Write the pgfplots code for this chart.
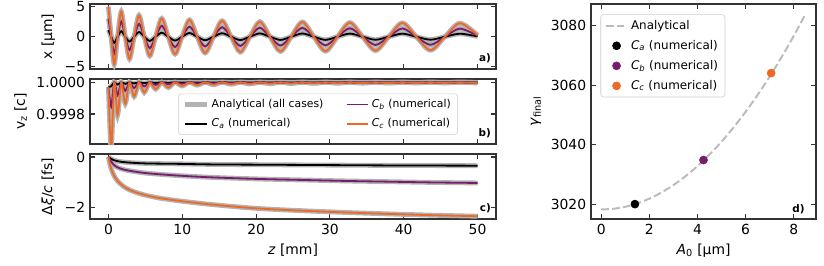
\documentclass[border=0pt]{standalone}
\usepackage{pgfplots}
\pgfplotsset{compat=1.18}
\usepackage{pgfplotstable}
\usepackage{fontspec}
\setmainfont{DejaVu Sans}
\definecolor{cb}{HTML}{781C6D}
\definecolor{cc}{HTML}{ED6925}
\definecolor{ana}{HTML}{B3B3B3}
\definecolor{anad}{HTML}{BBBBBB}

\pgfplotstableread{
z xa xb xc
0 1.1 3.0 5.0
0.371 0 0 0
0.784 -1.01 -2.76 -4.6
1.239 0 0 0
1.736 0.92 2.52 4.2
2.275 0 0 0
2.856 -0.81 -2.22 -3.7
3.479 0 0 0
4.144 0.78 2.13 3.55
4.851 0 0 0
5.600 -0.70 -1.92 -3.2
6.391 0 0 0
7.224 0.67 1.83 3.05
8.099 0 0 0
9.016 -0.64 -1.74 -2.9
9.975 0 0 0
10.976 0.62 1.68 2.8
12.019 0 0 0
13.104 -0.59 -1.62 -2.7
14.231 0 0 0
15.400 0.58 1.59 2.65
16.611 0 0 0
17.864 -0.56 -1.53 -2.55
19.159 0 0 0
20.496 0.55 1.50 2.5
21.875 0 0 0
23.296 -0.54 -1.47 -2.45
24.759 0 0 0
26.264 0.54 1.47 2.45
27.811 0 0 0
29.400 -0.53 -1.44 -2.4
31.031 0 0 0
32.704 0.52 1.41 2.35
34.419 0 0 0
36.176 -0.51 -1.38 -2.3
37.975 0 0 0
39.816 0.51 1.38 2.3
41.699 0 0 0
43.624 -0.50 -1.35 -2.25
45.591 0 0 0
47.600 0.50 1.35 2.25
50.000 0.05 0.15 0.25
}\tabA

\pgfplotstableread{
z va vb vc
0 0.99997 0.99997 0.99997
0.371 0.999975 0.999845 0.99958
0.784 1 1 1
1.239 0.9999856 0.999918 0.999794
1.736 1 1 1
2.275 0.9999904 0.999946 0.999865
2.856 1 1 1
3.479 0.9999931 0.999964 0.99991
4.144 1 1 1
4.851 0.9999949 0.999974 0.999936
5.600 1 1 1
6.391 0.9999963 0.999983 0.999957
7.224 1 1 1
8.099 0.9999972 0.999987 0.999967
9.016 1 1 1
9.975 0.9999978 0.999991 0.999977
10.976 1 1 1
12.019 0.9999983 0.9999928 0.999982
13.104 1 1 1
14.231 0.9999987 0.999994 0.999985
15.400 1 1 1
16.611 0.999999 0.9999952 0.999988
17.864 1 1 1
19.159 0.999999 0.999996 0.99999
20.496 1 1 1
21.875 0.999999 0.9999966 0.9999915
23.296 1 1 1
24.759 0.999999 0.9999971 0.9999927
26.264 1 1 1
27.811 0.999999 0.9999975 0.9999937
29.400 1 1 1
31.031 0.999999 0.9999978 0.9999945
32.704 1 1 1
34.419 0.999999 0.999998 0.999995
36.176 1 1 1
37.975 0.999999 0.9999982 0.9999955
39.816 1 1 1
41.699 0.999999 0.9999984 0.999996
43.624 1 1 1
45.591 0.999999 0.9999985 0.9999963
47.600 1 1 1
50.000 0.999999 0.999998 0.999996
}\tabB

\pgfplotstableread{
z da db dc
0 0 0 0
0.3 -0.06 -0.15 -0.40
0.7 -0.12 -0.30 -0.70
1.2 -0.16 -0.40 -0.93
1.8 -0.19 -0.47 -1.10
2.5 -0.21 -0.52 -1.24
3.5 -0.23 -0.57 -1.37
5 -0.25 -0.63 -1.50
7 -0.26 -0.68 -1.62
10 -0.27 -0.74 -1.74
14 -0.29 -0.80 -1.87
20 -0.30 -0.86 -2.02
26 -0.31 -0.90 -2.11
32 -0.32 -0.94 -2.18
38 -0.33 -0.97 -2.24
44 -0.335 -1.00 -2.29
50 -0.34 -1.02 -2.33
}\tabC

\pgfplotsset{
  mystyle/.style={
    scale only axis,
    axis line style={black!80, line width=0.8pt},
    tick style={black!80, line width=0.8pt},
    major tick length=3.5pt,
    tick align=inside,
    scaled ticks=false,
    /pgf/number format/assume math mode=true,
    /pgf/number format/1000 sep={},
    tick label style={font=\fontsize{10}{12}\selectfont},
    label style={font=\fontsize{10}{12}\selectfont},
  },
}
\tikzset{plabel/.style={anchor=south east, font=\bfseries\fontsize{7.5}{9}\selectfont, inner sep=0pt}}

\begin{document}
\begin{tikzpicture}
\path[use as bounding box] (0,0) rectangle (593.28pt,-190.8pt);

% panel a
\begin{axis}[mystyle, at={(64.8pt,-49.68pt)}, anchor=south west,
  width=292.32pt, height=46.8pt,
  xmin=-2.5, xmax=52.5, ymin=-5.38, ymax=5.45,
  xtick={0,10,20,30,40,50}, xticklabels={},
  ytick={-5,0,5}, yticklabels={−5,0,5},
  ylabel={x [µm]}]
\addplot[ana, line width=3.5pt, smooth] table[x=z,y=xa]{\tabA};
\addplot[ana, line width=3.5pt, smooth] table[x=z,y=xb]{\tabA};
\addplot[ana, line width=3.5pt, smooth] table[x=z,y=xc]{\tabA};
\addplot[black, line width=1.3pt, smooth] table[x=z,y=xa]{\tabA};
\addplot[cb, line width=1.3pt, smooth] table[x=z,y=xb]{\tabA};
\addplot[cc, line width=1.3pt, smooth] table[x=z,y=xc]{\tabA};
\node[plabel, xshift=-3.5pt, yshift=4pt] at (rel axis cs:1,0) {a)};
\end{axis}

% panel b
\begin{axis}[mystyle, at={(64.8pt,-103.68pt)}, anchor=south west,
  width=292.32pt, height=46.8pt,
  xmin=-2.5, xmax=52.5, ymin=0.99961, ymax=1.000021,
  xtick={0,10,20,30,40,50}, xticklabels={},
  ytick={0.9998,1}, yticklabels={0.9998,1.0000},
  ylabel={v\textsubscript{z} [c]},
  legend columns=2, legend cell align=left,
  legend style={at={(0.217,0.14)}, anchor=south west, draw=black!20,
    rounded corners=2pt, fill=white, fill opacity=0.8, text opacity=1,
    font=\fontsize{7.8}{9.2}\selectfont, inner xsep=3pt, inner ysep=2pt,
    row sep=2.5pt, /tikz/every even column/.append style={column sep=14pt}}]
\addplot[ana, line width=3.5pt, smooth, forget plot] table[x=z,y=va]{\tabB};
\addplot[ana, line width=3.5pt, smooth, forget plot] table[x=z,y=vb]{\tabB};
\addplot[ana, line width=3.5pt, smooth, forget plot] table[x=z,y=vc]{\tabB};
\addplot[black, line width=1.3pt, smooth, forget plot] table[x=z,y=va]{\tabB};
\addplot[cb, line width=1.3pt, smooth, forget plot] table[x=z,y=vb]{\tabB};
\addplot[cc, line width=1.3pt, smooth, forget plot] table[x=z,y=vc]{\tabB};
\addlegendimage{legend image code/.code={\draw[ana, line width=3.5pt] (0pt,0pt) -- (15.5pt,0pt);}}
\addlegendentry{Analytical (all cases)}
\addlegendimage{legend image code/.code={\draw[cb, line width=1.3pt] (0pt,0pt) -- (15.5pt,0pt);}}
\addlegendentry{\textit{C}\textsubscript{\textit{b}} (numerical)}
\addlegendimage{legend image code/.code={\draw[black, line width=1.3pt] (0pt,0pt) -- (15.5pt,0pt);}}
\addlegendentry{\textit{C}\textsubscript{\textit{a}} (numerical)}
\addlegendimage{legend image code/.code={\draw[cc, line width=1.3pt] (0pt,0pt) -- (15.5pt,0pt);}}
\addlegendentry{\textit{C}\textsubscript{\textit{c}} (numerical)}
\node[plabel, xshift=-3.5pt, yshift=4.5pt] at (rel axis cs:1,0) {b)};
\end{axis}

% panel c
\begin{axis}[mystyle, at={(64.8pt,-157.68pt)}, anchor=south west,
  width=292.32pt, height=46.8pt,
  xmin=-2.5, xmax=52.5, ymin=-2.44, ymax=0.12,
  xtick={0,10,20,30,40,50},
  ytick={-2,0}, yticklabels={−2,0},
  xlabel={\textit{z} [mm]},
  ylabel={Δ\textit{ξ}/\textit{c} [fs]}]
\addplot[ana, line width=3.5pt, smooth] table[x=z,y=da]{\tabC};
\addplot[ana, line width=3.5pt, smooth] table[x=z,y=db]{\tabC};
\addplot[ana, line width=3.5pt, smooth] table[x=z,y=dc]{\tabC};
\addplot[black, line width=1.3pt, smooth] table[x=z,y=da]{\tabC};
\addplot[cb, line width=1.3pt, smooth] table[x=z,y=db]{\tabC};
\addplot[cc, line width=1.3pt, smooth] table[x=z,y=dc]{\tabC};
\node[plabel, xshift=-3.5pt, yshift=4pt] at (rel axis cs:1,0) {c)};
\end{axis}

% panel d
\begin{axis}[mystyle, at={(425.52pt,-157.68pt)}, anchor=south west,
  width=162pt, height=154.8pt,
  xmin=-0.425, xmax=8.925, ymin=3015.1, ymax=3087.3,
  xtick={0,2,4,6,8},
  ytick={3020,3040,3060,3080}, yticklabels={3020,3040,3060,3080},
  xlabel={\textit{A}\textsubscript{0} [µm]},
  ylabel={\textit{γ}\textsubscript{final}},
  legend cell align=left,
  legend style={at={(0.042,0.952)}, anchor=north west, draw=black!20,
    rounded corners=2pt, fill=white, fill opacity=0.8, text opacity=1,
    font=\fontsize{8.6}{10.2}\selectfont, inner xsep=3pt, inner ysep=2pt,
    row sep=2.4pt}]
\addplot[anad, line width=1.4pt, dash pattern=on 5.5pt off 2.4pt, smooth, forget plot] coordinates {
(0,3018.3) (0.5,3018.53) (1,3019.21) (1.5,3020.35) (2,3021.94) (2.5,3024.0)
(3,3026.5) (3.5,3029.46) (4,3032.88) (4.5,3036.75) (5,3041.08) (5.5,3045.86)
(6,3051.1) (6.5,3056.79) (7,3062.94) (7.5,3069.54) (8,3076.6) (8.5,3084.12)};
\addplot[only marks, mark=*, mark size=2.9pt, black, forget plot] coordinates {(1.40,3020.1)};
\addplot[only marks, mark=*, mark size=2.9pt, cb, forget plot] coordinates {(4.25,3034.9)};
\addplot[only marks, mark=*, mark size=2.9pt, cc, forget plot] coordinates {(7.06,3064.1)};
\addlegendimage{legend image code/.code={\draw[anad, line width=1.4pt, dash pattern=on 5.5pt off 2.4pt] (0pt,0pt) -- (15.4pt,0pt);}}
\addlegendentry{Analytical}
\addlegendimage{legend image code/.code={\fill[black, fill opacity=1] (7.7pt,0pt) circle (2.9pt);}}
\addlegendentry{\textit{C}\textsubscript{\textit{a}} (numerical)}
\addlegendimage{legend image code/.code={\fill[cb, fill opacity=1] (7.7pt,0pt) circle (2.9pt);}}
\addlegendentry{\textit{C}\textsubscript{\textit{b}} (numerical)}
\addlegendimage{legend image code/.code={\fill[cc, fill opacity=1] (7.7pt,0pt) circle (2.9pt);}}
\addlegendentry{\textit{C}\textsubscript{\textit{c}} (numerical)}
\node[plabel, xshift=-8pt, yshift=3.5pt] at (rel axis cs:1,0) {d)};
\end{axis}
\end{tikzpicture}
\end{document}
